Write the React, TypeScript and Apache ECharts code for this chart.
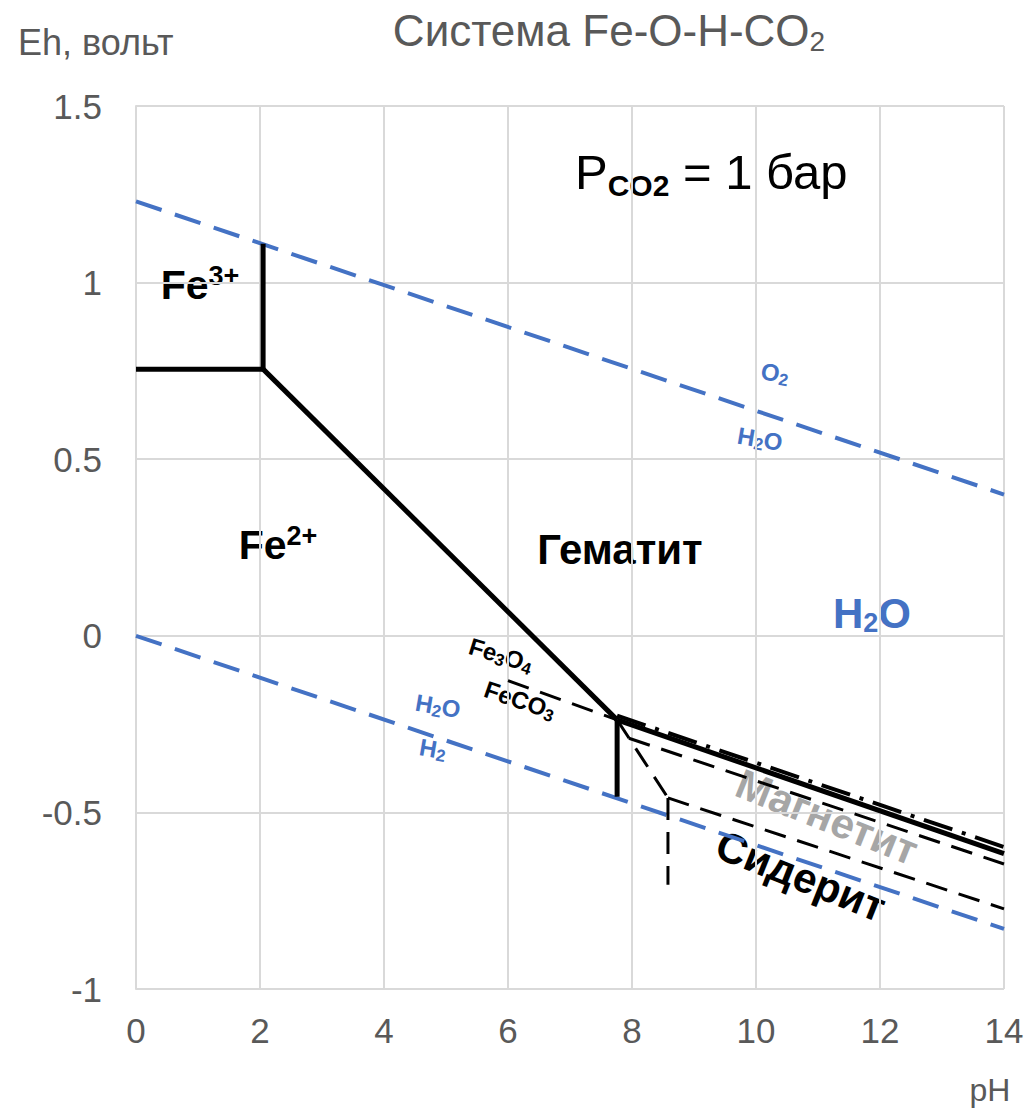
import React, { useEffect, useRef } from "react";
import * as echarts from "echarts";

// Axis ranges / ticks
const xMin = 0, xMax = 14, xStep = 2;
const yMin = -1, yMax = 1.5, yStep = 0.5;

// Boundary lines [pH, Eh]
const waterUpper = [[0, 1.23], [14, 0.40]];
const waterLower = [[0, 0], [14, -0.83]];
const fe3Fe2 = [[0, 0.755], [2.05, 0.755]];
const fe3Hem = [[2.05, 0.755], [2.05, 1.11]];
const fe2Hem = [[2.05, 0.755], [7.76, -0.238]];
const fe2Sid = [[7.76, -0.238], [7.76, -0.456]];
const hemMag = [[7.76, -0.238], [14, -0.617]];
const hemSidDashDot = [[7.76, -0.226], [14, -0.598]];
const magSidLeft = [[6.0, -0.127], [7.76, -0.238]];
const magSidSteep = [[7.76, -0.238], [8.58, -0.459]];
const magSidUpper = [[7.95, -0.29], [14, -0.646]];
const magSidLower = [[8.58, -0.459], [14, -0.773]];
const sidVertical = [[8.58, -0.459], [8.58, -0.705]];

const FONT = "'Liberation Sans', Arial, sans-serif";
const BLUE = "#4472C4";
const GRAY = "#595959";

export default function App() {
  const ref = useRef<HTMLDivElement>(null);
  useEffect(() => {
    if (!ref.current) return;
    const chart = echarts.init(ref.current, null, { renderer: "svg" });
    const line = (data: number[][], color: string, width: number, type: any) => ({
      type: "line",
      data,
      showSymbol: false,
      symbol: "none",
      silent: true,
      lineStyle: { color, width, type, cap: "butt" },
    });
    const small = (fill: string) => ({
      a: { fontSize: 24, fontWeight: "bold", fontFamily: FONT, fill, lineHeight: 28 },
      s: { fontSize: 17, fontWeight: "bold", fontFamily: FONT, fill, lineHeight: 8, verticalAlign: "bottom" },
    });
    chart.setOption({
      animation: false,
      backgroundColor: "#ffffff",
      grid: { left: 136, right: 27, top: 106, bottom: 122, containLabel: false },
      xAxis: {
        type: "value",
        min: xMin,
        max: xMax,
        interval: xStep,
        axisLine: { show: true, lineStyle: { color: "#d9d9d9", width: 2 } },
        axisTick: { show: false },
        splitLine: { show: true, lineStyle: { color: "#d9d9d9", width: 2 } },
        axisLabel: { color: GRAY, fontSize: 35, fontFamily: FONT, margin: 24 },
      },
      yAxis: {
        type: "value",
        min: yMin,
        max: yMax,
        interval: yStep,
        axisLine: { show: true, lineStyle: { color: "#d9d9d9", width: 2 } },
        axisTick: { show: false },
        splitLine: { show: true, lineStyle: { color: "#d9d9d9", width: 2 } },
        axisLabel: { color: GRAY, fontSize: 35, fontFamily: FONT, margin: 34 },
      },
      series: [
        line(waterUpper, BLUE, 4, [27, 14]),
        line(waterLower, BLUE, 4, [27, 14]),
        line(magSidLeft, "#000", 3, [22, 12]),
        line(magSidSteep, "#000", 3, [22, 12]),
        line(magSidUpper, "#000", 3, [22, 12]),
        line(magSidLower, "#000", 3, [22, 12]),
        line(sidVertical, "#000", 3, [22, 12]),
        line(hemSidDashDot, "#000", 4, [30, 10, 4, 10]),
        line(fe3Fe2, "#000", 5, "solid"),
        line(fe3Hem, "#000", 5, "solid"),
        line(fe2Hem, "#000", 5, "solid"),
        line(fe2Sid, "#000", 5, "solid"),
        line(hemMag, "#000", 5, "solid"),
      ],
      graphic: [
        {
          type: "text", x: 609, y: 30,
          style: {
            text: "{a|Система Fe-O-H-CO}{s|2}", align: "center", verticalAlign: "middle",
            rich: {
              a: { fontSize: 44, fontFamily: FONT, fill: GRAY, lineHeight: 50 },
              s: { fontSize: 28, fontFamily: FONT, fill: GRAY, lineHeight: 20, verticalAlign: "bottom" },
            },
          },
        },
        {
          type: "text", x: 18, y: 42,
          style: { text: "Eh, вольт", fontSize: 36, fontFamily: FONT, fill: GRAY, align: "left", verticalAlign: "middle" },
        },
        {
          type: "text", x: 990, y: 1090,
          style: { text: "pH", fontSize: 32, fontFamily: FONT, fill: GRAY, align: "center", verticalAlign: "middle" },
        },
        {
          type: "text", x: 575, y: 172,
          style: {
            text: "{p|P}{s|CO2}{p| = 1 бар}", align: "left", verticalAlign: "middle",
            rich: {
              p: { fontSize: 49, fontFamily: FONT, fill: "#000", lineHeight: 56 },
              s: { fontSize: 30, fontWeight: "bold", fontFamily: FONT, fill: "#000", lineHeight: 24, verticalAlign: "bottom" },
            },
          },
        },
        {
          type: "text", x: 200, y: 285,
          style: {
            text: "{a|Fe}{b|3+}", align: "center", verticalAlign: "middle",
            rich: {
              a: { fontSize: 41, fontWeight: "bold", fontFamily: FONT, fill: "#000", lineHeight: 46 },
              b: { fontSize: 27, fontWeight: "bold", fontFamily: FONT, fill: "#000", lineHeight: 28, verticalAlign: "top" },
            },
          },
        },
        {
          type: "text", x: 278, y: 545,
          style: {
            text: "{a|Fe}{b|2+}", align: "center", verticalAlign: "middle",
            rich: {
              a: { fontSize: 41, fontWeight: "bold", fontFamily: FONT, fill: "#000", lineHeight: 46 },
              b: { fontSize: 27, fontWeight: "bold", fontFamily: FONT, fill: "#000", lineHeight: 28, verticalAlign: "top" },
            },
          },
        },
        {
          type: "text", x: 620, y: 549,
          style: { text: "Гематит", fontSize: 42, fontWeight: "bold", fontFamily: FONT, fill: "#000", align: "center", verticalAlign: "middle" },
        },
        {
          type: "text", x: 872, y: 613,
          style: {
            text: "{a|H}{s|2}{a|O}", align: "center", verticalAlign: "middle",
            rich: {
              a: { fontSize: 42, fontWeight: "bold", fontFamily: FONT, fill: BLUE, lineHeight: 46 },
              s: { fontSize: 27, fontWeight: "bold", fontFamily: FONT, fill: BLUE, lineHeight: 18, verticalAlign: "bottom" },
            },
          },
        },
        {
          type: "text", x: 775, y: 373, rotation: -0.17,
          style: { text: "{a|O}{s|2}", align: "center", verticalAlign: "middle", rich: small(BLUE) },
        },
        {
          type: "text", x: 760, y: 439, rotation: -0.17,
          style: { text: "{a|H}{s|2}{a|O}", align: "center", verticalAlign: "middle", rich: small(BLUE) },
        },
        {
          type: "text", x: 438, y: 706, rotation: -0.17,
          style: { text: "{a|H}{s|2}{a|O}", align: "center", verticalAlign: "middle", rich: small(BLUE) },
        },
        {
          type: "text", x: 433, y: 749, rotation: -0.17,
          style: { text: "{a|H}{s|2}", align: "center", verticalAlign: "middle", rich: small(BLUE) },
        },
        {
          type: "text", x: 501, y: 655, rotation: -0.3,
          style: { text: "{a|Fe}{s|3}{a|O}{s|4}", align: "center", verticalAlign: "middle", rich: small("#000") },
        },
        {
          type: "text", x: 520, y: 700, rotation: -0.33,
          style: { text: "{a|FeCO}{s|3}", align: "center", verticalAlign: "middle", rich: small("#000") },
        },
        {
          type: "text", x: 827, y: 817, rotation: -0.38,
          style: { text: "Магнетит", fontSize: 42, fontWeight: "bold", fontFamily: FONT, fill: "#a6a6a6", align: "center", verticalAlign: "middle" },
        },
        {
          type: "text", x: 801, y: 876, rotation: -0.38,
          style: { text: "Сидерит", fontSize: 42, fontWeight: "bold", fontFamily: FONT, fill: "#000", align: "center", verticalAlign: "middle" },
        },
      ],
    });
    return () => chart.dispose();
  }, []);
  return (
    <div
      ref={ref}
      style={{ position: "fixed", left: 0, top: 0, width: 1031, height: 1111, background: "#fff" }}
    />
  );
}
